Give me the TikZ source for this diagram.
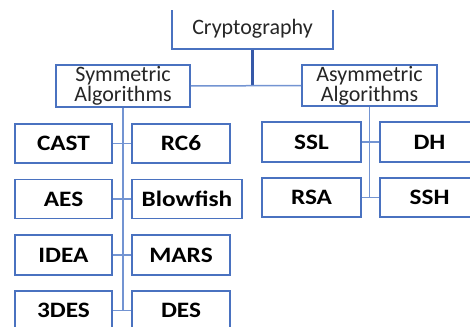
\documentclass[tikz,border=0pt]{standalone}
\usepackage{fontspec}
\setmainfont{Carlito}
\newfontfamily\labelfont[FakeStretch=1.15]{Carlito}
\definecolor{boxblue}{HTML}{4A72C0}
\definecolor{linkblue}{HTML}{7394D2}
\definecolor{stemblue}{HTML}{3558A8}
\tikzset{
  algbox/.style={draw=boxblue,line width=1.6pt,fill=white,inner sep=0pt,minimum height=39pt,minimum width=98pt,font=\labelfont\bfseries\fontsize{22}{24}\selectfont},
  headbox/.style={draw=boxblue,line width=1.6pt,fill=white,inner sep=0pt,align=center,text=black!85,font=\fontsize{22}{20}\selectfont},
  link/.style={draw=linkblue,line width=1.5pt}
}
\begin{document}
\begin{tikzpicture}[x=1pt,y=-1pt]
\useasboundingbox[fill=white] (0,0) rectangle (470,326);
\begin{scope}
\clip (0,11) rectangle (470,326);
\node[headbox,minimum width=161pt,minimum height=40pt] (crypto) at (252.5,29) {Cryptography};
\node[headbox,minimum width=134pt,minimum height=42pt] (sym) at (123,86) {Symmetric\\Algorithms};
\node[headbox,minimum width=135pt,minimum height=41pt] (asym) at (369.5,85.5) {Asymmetric\\Algorithms};
\node[algbox,minimum width=97pt] (cast) at (63.5,143.5) {CAST};
\node[algbox] (rc) at (181,143.5) {RC6};
\node[algbox,minimum width=97pt] (aes) at (63.5,199) {AES};
\node[algbox,minimum width=110pt] (blow) at (187,199) {Blowfish};
\node[algbox,minimum width=97pt,minimum height=40pt] (idea) at (63.5,255) {IDEA};
\node[algbox,minimum height=40pt] (mars) at (181,255) {MARS};
\node[algbox,minimum width=97pt] (tdes) at (63.5,310.5) {3DES};
\node[algbox] (des) at (181,310.5) {DES};
\node[algbox,minimum width=99pt,minimum height=40pt] (ssl) at (311.5,142) {SSL};
\node[algbox,minimum width=99pt,minimum height=40pt] (dh) at (429.5,142) {DH};
\node[algbox,minimum width=99pt] (rsa) at (311.5,197.5) {RSA};
\node[algbox,minimum width=99pt] (ssh) at (429.5,197.5) {SSH};
\coordinate (top) at (crypto.south |- sym.east);
\draw[draw=stemblue,line width=3pt] (crypto.south) -- (top);
\draw[link] (sym.east) -- (asym.west);
\draw[link] (sym.south) -- (sym.south |- tdes.east);
\draw[link] (asym.south) -- (asym.south |- rsa.east);
\foreach \a/\b in {cast/rc,aes/blow,idea/mars,tdes/des,ssl/dh,rsa/ssh}
  \draw[link] (\a.east) -- (\b.west);
\end{scope}
\end{tikzpicture}
\end{document}
